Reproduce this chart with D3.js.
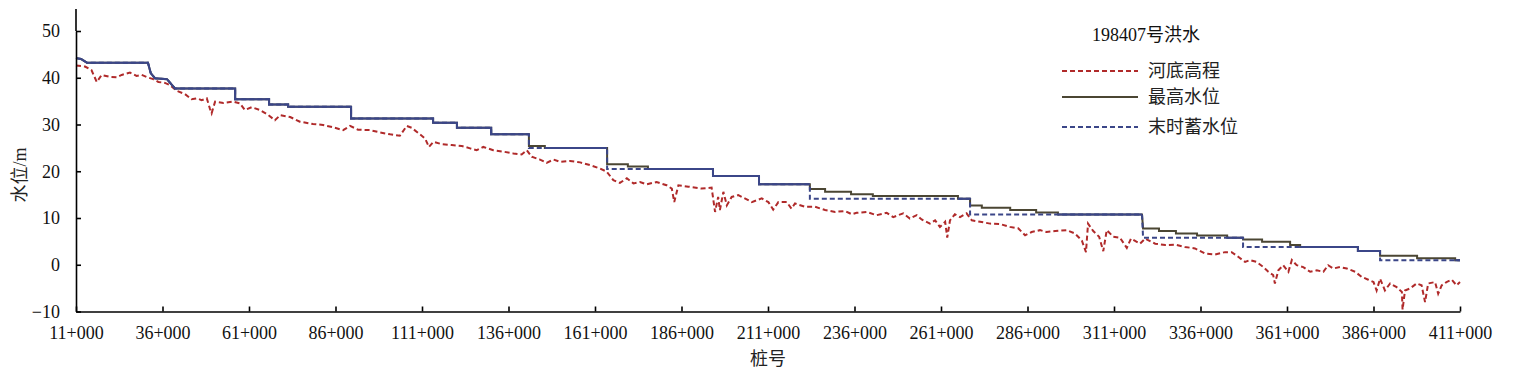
<!DOCTYPE html>
<html>
<head>
<meta charset="utf-8">
<script src="https://cdn.jsdelivr.net/npm/d3@7"></script>
<style>
  body { margin: 0; background: #fff; }
  text { font-family: "Liberation Serif", "Noto Sans CJK SC", serif; }
</style>
</head>
<body>
<svg id="chart"></svg>
<script>
// station ticks (km)
let xTicks = [11, 36, 61, 86, 111, 136, 161, 186, 211, 236, 261, 286, 311, 336, 361, 386, 411];
let yTicks = [-10, 0, 10, 20, 30, 40, 50];

// riverbed elevation
let bedKm = [11.0, 13.6, 15.5, 17.0, 18.4, 20.8, 22.8, 24.2, 26.6, 28.5, 30.0, 31.6, 33.3, 34.8, 36.7, 38.2,
  40.1, 42.5, 44.4, 45.9, 47.3, 48.8, 49.7, 50.2, 51.2, 53.6, 56.5, 58.4, 59.8, 61.8, 64.2, 66.6,
  68.5, 70.0, 72.9, 75.7, 79.5, 82.4, 85.3, 88.2, 90.2, 92.5, 96.0, 98.9, 101.8, 104.6, 106.6, 108.0,
  109.9, 111.9, 113.0, 114.3, 116.7, 119.6, 122.5, 124.9, 126.8, 128.7, 131.6, 134.5, 137.4, 139.8, 141.3, 142.7,
  145.1, 147.0, 149.0, 150.9, 153.8, 156.7, 159.6, 162.4, 164.4, 166.3, 168.2, 170.2, 172.1, 174.0, 175.9, 178.8,
  181.7, 183.2, 183.9, 185.1, 188.0, 191.8, 194.7, 195.7, 196.6, 197.1, 198.1, 199.1, 200.5, 202.4, 204.3, 206.3,
  209.2, 211.1, 212.5, 214.0, 216.4, 217.8, 218.8, 221.7, 224.6, 227.5, 230.4, 233.3, 235.2, 236.6, 239.5, 242.4,
  245.3, 247.2, 250.1, 252.0, 254.0, 255.4, 257.8, 259.3, 260.7, 262.2, 262.8, 263.6, 265.0, 266.5, 268.4, 269.9,
  272.3, 275.2, 278.1, 280.9, 283.3, 285.3, 287.2, 289.6, 291.5, 294.0, 297.3, 299.7, 301.7, 302.9, 303.5, 305.0,
  306.7, 307.9, 308.9, 310.8, 312.7, 314.7, 315.9, 318.5, 320.0, 322.9, 325.8, 328.7, 331.5, 334.4, 337.3, 340.2,
  343.1, 345.0, 346.9, 348.9, 350.3, 352.2, 354.2, 355.6, 357.0, 357.5, 358.5, 359.9, 361.4, 362.4, 363.8, 365.7,
  367.7, 369.6, 371.5, 372.9, 374.4, 376.3, 378.3, 380.7, 382.6, 384.5, 386.0, 386.9, 387.9, 389.3, 390.8, 392.7,
  394.2, 394.4, 395.1, 396.5, 398.5, 399.9, 400.9, 401.8, 403.8, 404.7, 405.7, 407.1, 408.6, 410.0, 411.0];
let bedLevel = [42.6, 42.4, 41.6, 39.1, 40.6, 40.2, 40.1, 40.6, 41.1, 40.4, 40.6, 40.1, 39.7, 39.1, 38.9, 38.4,
  37.2, 36.5, 35.4, 35.6, 35.2, 35.6, 33.4, 32.4, 34.9, 34.6, 34.9, 34.5, 33.1, 33.7, 33.1, 32.0,
  30.9, 32.0, 31.6, 30.6, 30.1, 29.9, 29.4, 28.8, 29.7, 28.9, 28.8, 28.3, 27.9, 27.6, 29.7, 29.3,
  28.2, 27.0, 25.2, 26.3, 25.8, 25.6, 25.4, 24.9, 24.5, 25.2, 24.5, 24.2, 23.8, 23.6, 24.5, 23.1,
  22.5, 21.8, 22.5, 22.0, 22.2, 21.9, 21.3, 20.6, 19.9, 18.1, 17.5, 18.5, 17.4, 17.7, 17.2, 17.7,
  17.0, 16.3, 13.4, 17.0, 16.7, 16.3, 16.5, 11.3, 14.5, 11.7, 15.6, 12.7, 14.5, 14.9, 14.2, 13.4,
  14.2, 13.4, 11.8, 13.4, 13.4, 12.0, 13.1, 12.4, 12.4, 11.7, 11.3, 11.5, 10.8, 11.1, 11.3, 10.6,
  11.1, 10.2, 11.0, 9.9, 10.6, 9.7, 8.8, 9.5, 8.1, 9.2, 5.8, 9.5, 10.8, 10.2, 11.0, 9.5,
  9.2, 8.8, 8.7, 8.1, 7.8, 6.3, 7.0, 7.4, 7.0, 7.2, 7.4, 6.7, 5.2, 2.7, 8.8, 7.2,
  6.0, 2.9, 7.4, 6.0, 5.8, 3.6, 5.6, 4.5, 5.6, 4.5, 4.2, 4.3, 3.8, 3.5, 2.4, 2.2,
  2.7, 2.7, 1.7, 0.6, 1.0, 0.6, -0.5, -1.5, -2.2, -4.0, -1.2, -0.1, -1.5, 1.0, -0.1, -0.5,
  -1.5, -1.2, -1.5, -0.1, -0.8, -0.5, -0.8, -1.5, -2.6, -3.2, -3.7, -5.5, -3.0, -5.5, -4.0, -4.8,
  -5.8, -9.6, -5.5, -5.1, -4.0, -4.4, -8.0, -4.0, -3.7, -6.2, -4.4, -3.7, -3.2, -4.4, -3.7];

// max and final water level, sharing the same vertex stations
let stepKm = [11.0, 12.5, 14.2, 31.8, 32.6, 33.8, 37.3, 39.6, 57.0, 57.0, 66.8, 66.8, 72.3, 72.3, 90.5, 90.5,
  114.2, 114.2, 121.1, 121.1, 131.0, 131.0, 141.9, 141.9, 146.5, 146.5, 164.5, 164.5, 170.5, 170.5, 176.3, 176.3,
  195.1, 195.1, 208.4, 208.4, 223.1, 223.1, 227.5, 227.5, 235.0, 235.0, 241.3, 241.3, 265.9, 265.9, 269.4, 269.4,
  272.8, 272.8, 281.0, 281.0, 288.5, 288.5, 294.8, 294.8, 319.1, 319.4, 324.0, 324.0, 328.9, 328.9, 335.0, 335.0,
  343.7, 343.7, 348.3, 348.3, 353.8, 353.8, 361.9, 361.9, 364.8, 364.8, 381.5, 381.5, 387.9, 387.9, 398.6, 398.6,
  409.6, 409.6, 411.0];
let maxLevel = [44.2, 44.0, 43.2, 43.2, 41.0, 39.9, 39.7, 37.7, 37.7, 35.4, 35.4, 34.3, 34.3, 33.8, 33.8, 31.3,
  31.3, 30.4, 30.4, 29.3, 29.3, 27.9, 27.9, 25.4, 25.4, 25.0, 25.0, 21.5, 21.5, 21.0, 21.0, 20.5,
  20.5, 19.0, 19.0, 17.2, 17.2, 16.2, 16.2, 15.6, 15.6, 15.1, 15.1, 14.7, 14.7, 14.1, 14.1, 12.7,
  12.7, 12.2, 12.2, 11.7, 11.7, 11.2, 11.2, 10.75, 10.75, 7.75, 7.75, 7.2, 7.2, 6.7, 6.7, 6.25,
  6.25, 5.8, 5.8, 5.4, 5.4, 4.9, 4.9, 4.2, 4.2, 3.8, 3.8, 2.95, 2.95, 1.95, 1.95, 1.4,
  1.4, 0.96, 0.96];
let finalLevel = [44.2, 44.0, 43.2, 43.2, 41.0, 39.9, 39.7, 37.7, 37.7, 35.4, 35.4, 34.3, 34.3, 33.8, 33.8, 31.3,
  31.3, 30.4, 30.4, 29.3, 29.3, 27.9, 27.9, 25.0, 25.0, 25.0, 25.0, 20.5, 20.5, 20.5, 20.5, 20.5,
  20.5, 19.0, 19.0, 17.2, 17.2, 14.1, 14.1, 14.1, 14.1, 14.1, 14.1, 14.1, 14.1, 14.1, 14.1, 10.75,
  10.75, 10.75, 10.75, 10.75, 10.75, 10.75, 10.75, 10.75, 10.75, 5.8, 5.8, 5.8, 5.8, 5.8, 5.8, 5.8,
  5.8, 5.8, 5.8, 3.8, 3.8, 3.8, 3.8, 3.8, 3.8, 3.8, 3.8, 2.95, 2.95, 0.96, 0.96, 0.96,
  0.96, 0.96, 0.96];

let title = '198407号洪水';
let seriesNames = ['河底高程', '最高水位', '末时蓄水位'];

let width = 1516;
let height = 373;

let svg = d3.select('#chart').attr('width', width).attr('height', height);

let x = d3.scaleLinear().domain([11, 411]).range([76, 1460]);
let y = d3.scaleLinear().domain([-10, 50]).range([311.5, 31]);

let red = '#b02a2a';
let brown = '#4b4633';
let blue = '#3b4688';

let bed = bedKm.map((k, i) => ({ km: k, v: bedLevel[i] }));
let steps = stepKm.map((k, i) => ({ km: k, max: maxLevel[i], fin: finalLevel[i] }));

let g = svg.append('g');

// riverbed
g.append('path')
  .datum(bed)
  .attr('fill', 'none')
  .attr('stroke', red)
  .attr('stroke-width', 2)
  .attr('stroke-dasharray', '5,3')
  .attr('d', d3.line().x(d => x(d.km)).y(d => y(d.v)));

// max water level
g.append('path')
  .datum(steps)
  .attr('fill', 'none')
  .attr('stroke', brown)
  .attr('stroke-width', 2)
  .attr('d', d3.line().x(d => x(d.km)).y(d => y(d.max)));

// final storage level
g.append('path')
  .datum(steps)
  .attr('fill', 'none')
  .attr('stroke', blue)
  .attr('stroke-width', 2)
  .attr('stroke-dasharray', '5,3')
  .attr('d', d3.line().x(d => x(d.km)).y(d => y(d.fin)));

// where both levels coincide the line reads as solid blue
g.append('path')
  .datum(steps)
  .attr('fill', 'none')
  .attr('stroke', blue)
  .attr('stroke-width', 2)
  .attr('d', d3.line()
    .defined(d => Math.abs(d.max - d.fin) < 0.01)
    .x(d => x(d.km)).y(d => y(d.fin)));

// axes
let yTop = 9;
let xAxis = d3.axisBottom(x)
  .tickValues(xTicks)
  .tickFormat(d => d + '+000')
  .tickSizeInner(-5)
  .tickSizeOuter(0)
  .tickPadding(15);

let yAxis = d3.axisLeft(y)
  .tickValues(yTicks)
  .tickSizeInner(-5)
  .tickSizeOuter(0)
  .tickPadding(16);

let xg = svg.append('g')
  .attr('transform', `translate(0,${y(-10)})`)
  .call(xAxis);

let yg = svg.append('g')
  .attr('transform', 'translate(76,0)')
  .call(yAxis);

[xg, yg].forEach(a => {
  a.selectAll('path, line').attr('stroke', '#000').attr('stroke-width', 1.6);
  a.selectAll('text').attr('fill', '#111').attr('font-size', '18px')
    .attr('font-family', '"Liberation Serif", serif');
});

// extend y axis line to the top
yg.append('line')
  .attr('x1', 0).attr('x2', 0)
  .attr('y1', yTop).attr('y2', y(50))
  .attr('stroke', '#000').attr('stroke-width', 1.6);

// axis titles
svg.append('text')
  .attr('x', 768).attr('y', 365)
  .attr('text-anchor', 'middle')
  .attr('font-size', '18px')
  .attr('fill', '#222')
  .text('桩号');

svg.append('text')
  .attr('transform', 'translate(26,175) rotate(-90)')
  .attr('text-anchor', 'middle')
  .attr('font-size', '18px')
  .attr('fill', '#222')
  .text('水位/m');

// legend
svg.append('text')
  .attr('x', 1146).attr('y', 41)
  .attr('text-anchor', 'middle')
  .attr('font-size', '18px')
  .attr('fill', '#111')
  .text(title);

let legendRows = [
  { name: seriesNames[0], color: red, dash: '5,3', y: 71 },
  { name: seriesNames[1], color: brown, dash: null, y: 97 },
  { name: seriesNames[2], color: blue, dash: '5,3', y: 127 }
];

let legend = svg.append('g');
let rows = legend.selectAll('g')
  .data(legendRows)
  .enter().append('g');

rows.append('line')
  .attr('x1', 1062).attr('x2', 1138)
  .attr('y1', d => d.y).attr('y2', d => d.y)
  .attr('stroke', d => d.color)
  .attr('stroke-width', 2)
  .attr('stroke-dasharray', d => d.dash);

rows.append('text')
  .attr('x', 1148)
  .attr('y', d => d.y)
  .attr('dy', '0.35em')
  .attr('font-size', '18px')
  .attr('fill', '#222')
  .text(d => d.name);
</script>
</body>
</html>
